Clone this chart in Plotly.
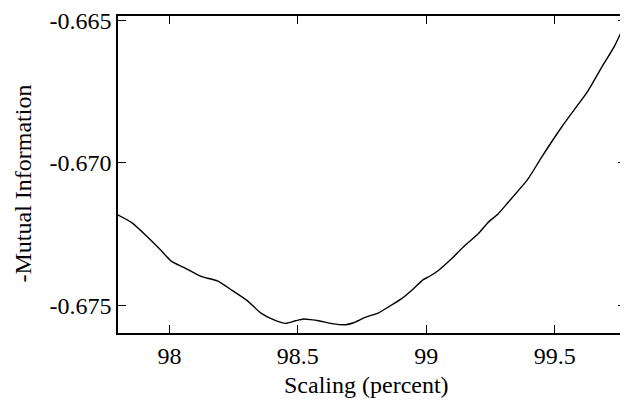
import plotly.graph_objects as go

scaling = [97.798, 97.852, 97.916, 97.968, 98.007, 98.058, 98.123, 98.187, 98.239,
           98.304, 98.355, 98.407, 98.452, 98.491, 98.523, 98.55, 98.581, 98.633,
           98.685, 98.717, 98.762, 98.814, 98.853, 98.904, 98.950, 98.988, 99.008,
           99.047, 99.098, 99.150, 99.202, 99.240, 99.279, 99.318, 99.395, 99.447,
           99.524, 99.576, 99.628, 99.680, 99.731, 99.776]
neg_mi = [-0.67182, -0.67209, -0.67261, -0.67308, -0.67345, -0.67368, -0.67399,
          -0.67415, -0.67445, -0.67485, -0.67527, -0.67552, -0.67564, -0.67555,
          -0.67549, -0.67551, -0.67555, -0.67565, -0.67569, -0.67562, -0.67543,
          -0.67527, -0.67506, -0.67477, -0.67442, -0.67410, -0.67401, -0.67378,
          -0.67337, -0.67290, -0.67249, -0.67209, -0.67179, -0.67139, -0.67057,
          -0.66982, -0.66877, -0.66812, -0.66748, -0.66667, -0.66591, -0.66504]

x_ticks = [98, 98.5, 99, 99.5]
x_tick_labels = ["98", "98.5", "99", "99.5"]
y_ticks = [-0.675, -0.670, -0.665]
y_tick_labels = ["-0.675", "-0.670", "-0.665"]

font_family = "Liberation Serif"

fig = go.Figure()
fig.add_trace(go.Scatter(x=scaling, y=neg_mi, mode="lines",
                         line=dict(color="black", width=1.4, shape="spline", smoothing=0.6),
                         showlegend=False, hoverinfo="skip"))

axis_common = dict(showline=True, linecolor="black", linewidth=1.5, mirror="ticks",
                   ticks="inside", ticklen=8, tickwidth=1.3, tickcolor="black",
                   showgrid=False, zeroline=False, ticklabeloverflow="allow",
                   tickfont=dict(family=font_family, size=24, color="black"))

fig.update_xaxes(range=[97.8, 99.777], tickmode="array", tickvals=x_ticks,
                 ticktext=x_tick_labels, **axis_common)
fig.update_yaxes(range=[-0.67598, -0.66483], tickmode="array", tickvals=y_ticks,
                 ticktext=y_tick_labels, **axis_common)

fig.add_annotation(text="Scaling (percent)", xref="paper", yref="paper", x=0.49, y=0,
                   xanchor="center", yanchor="middle", yshift=-52, showarrow=False,
                   font=dict(family=font_family, size=24, color="black"))
fig.add_annotation(text="-Mutual Information", xref="paper", yref="paper", x=0, y=0.5,
                   xanchor="center", yanchor="middle", xshift=-96, yshift=-9,
                   textangle=-90, showarrow=False,
                   font=dict(family=font_family, size=24, color="black"))

# page body has an 8px default margin; compensate so the plot lands where the reference has it
fig.update_layout(width=620, height=398, margin=dict(l=110, r=0, t=6, b=73),
                  paper_bgcolor="white", plot_bgcolor="white")

fig.write_html("out.html")
